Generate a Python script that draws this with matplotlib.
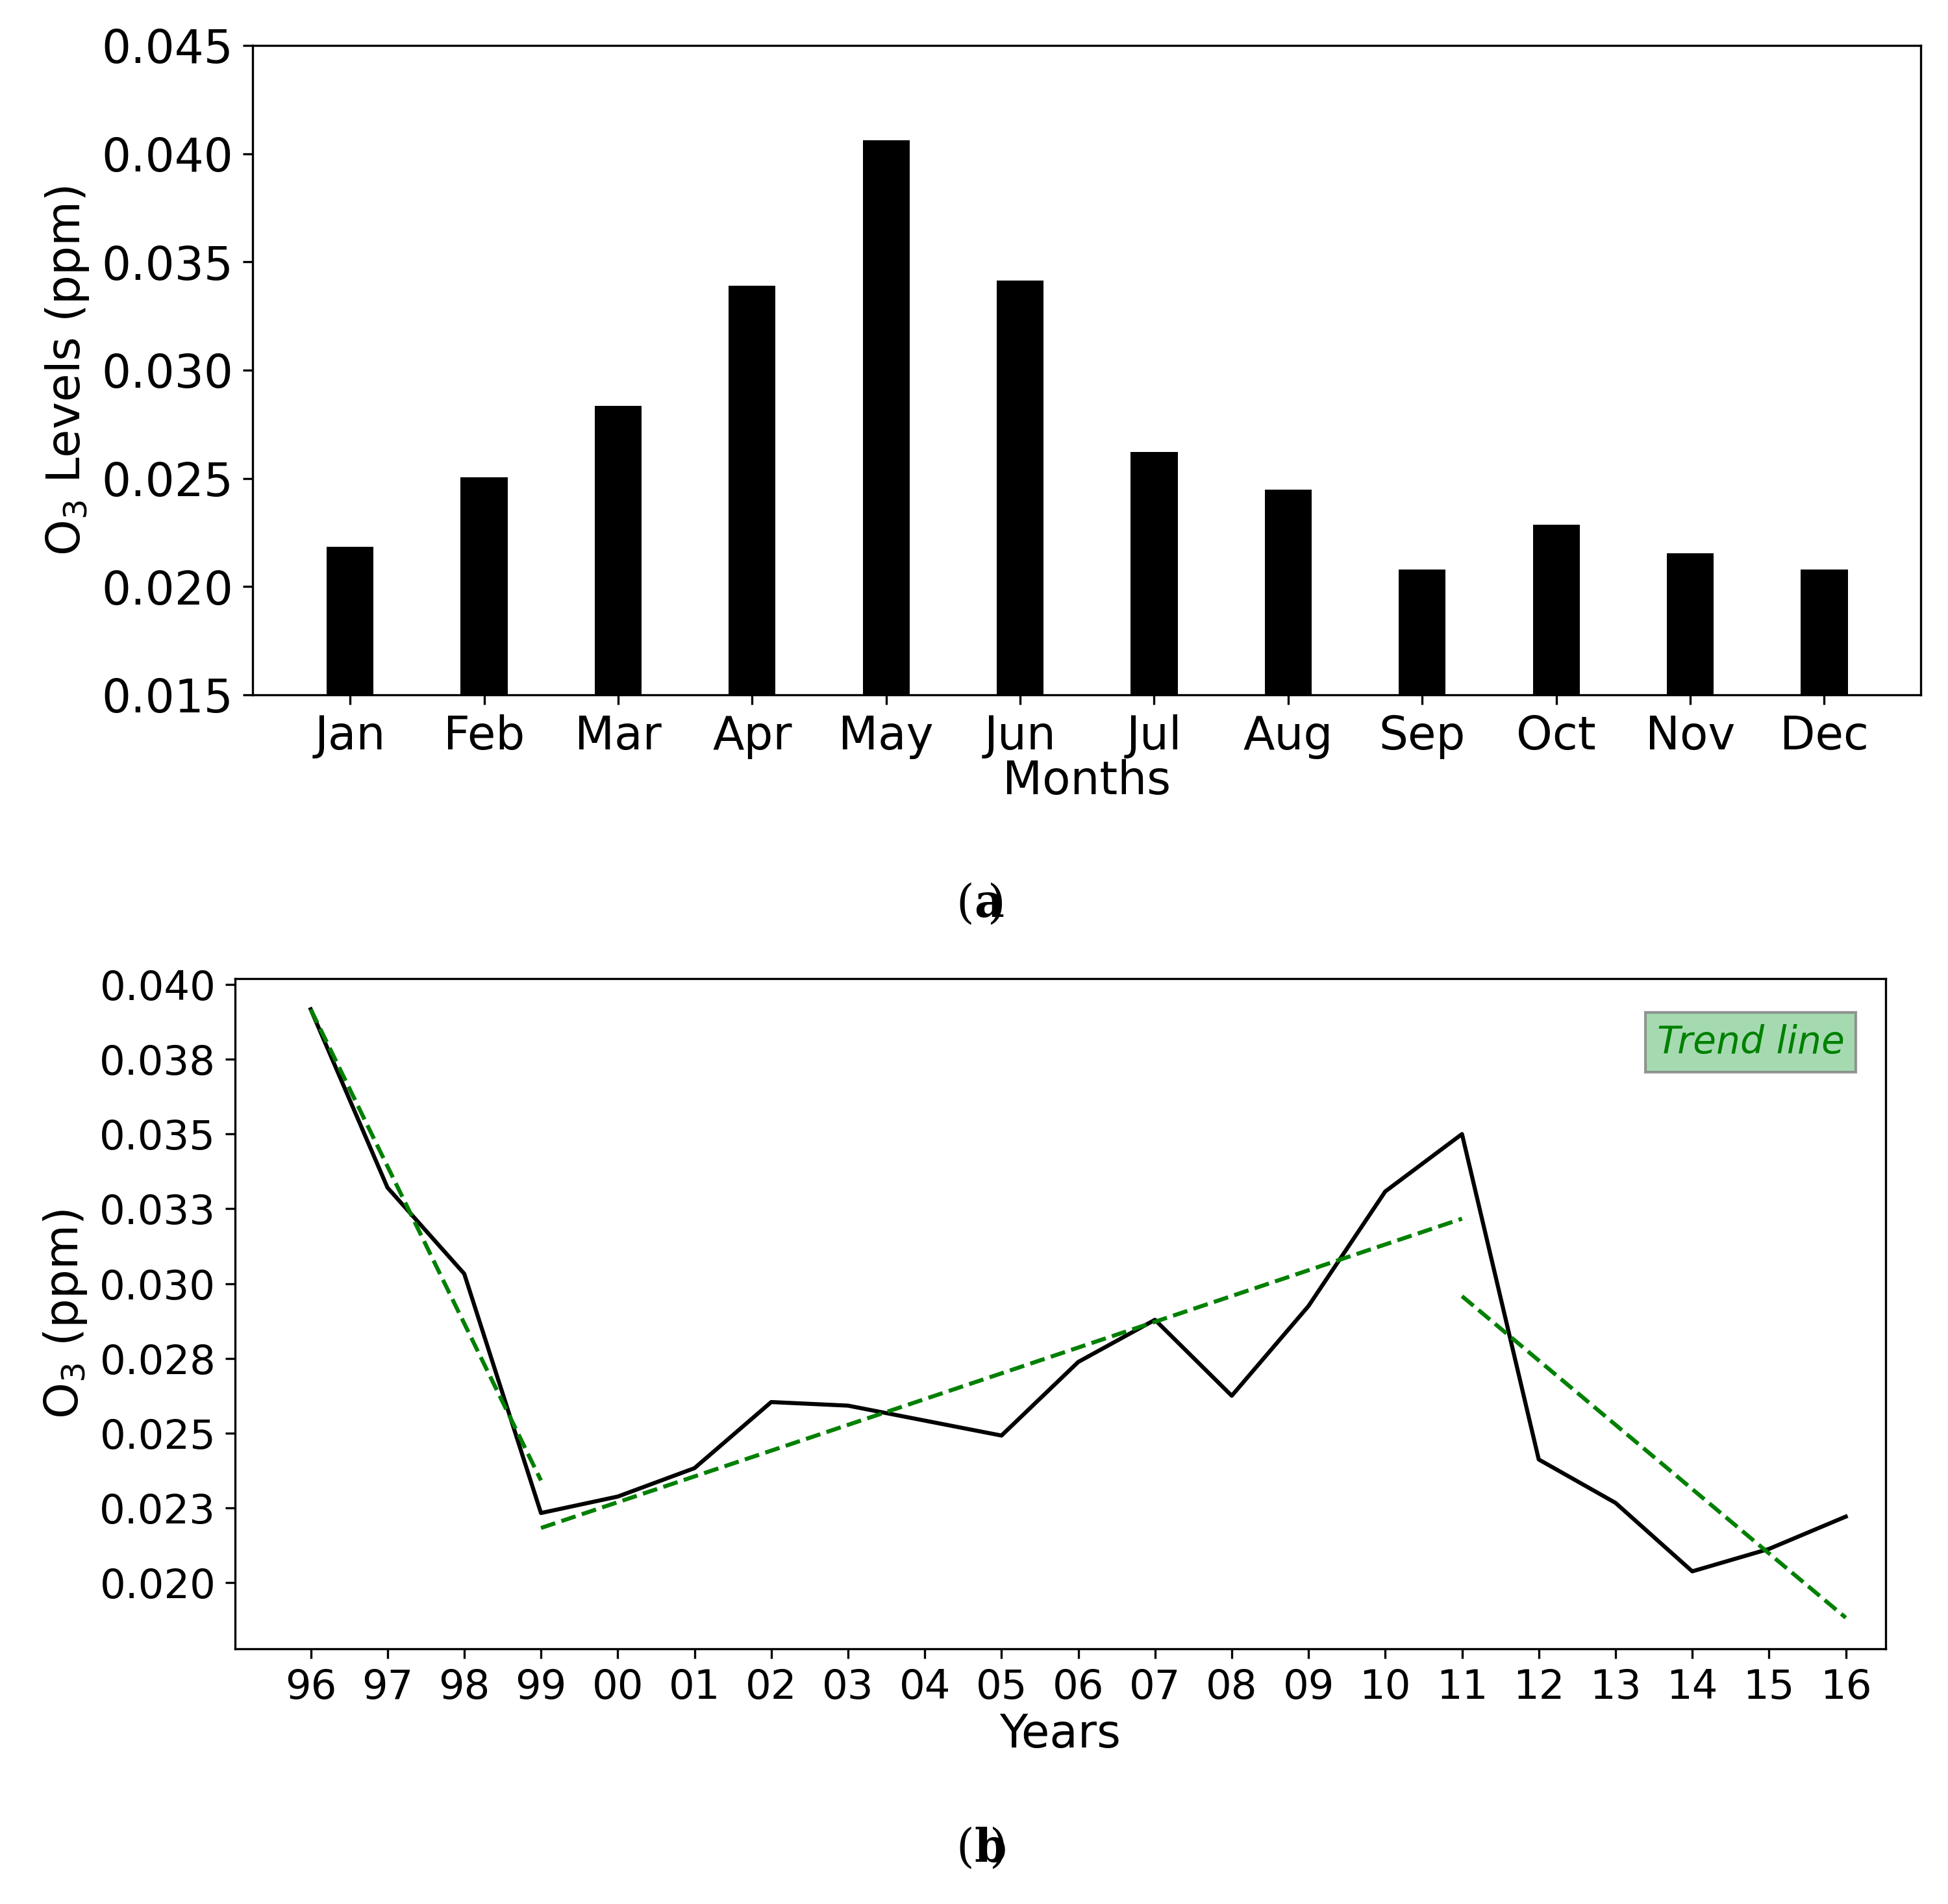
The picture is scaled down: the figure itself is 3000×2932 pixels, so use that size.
import matplotlib
matplotlib.use("Agg")
import matplotlib.pyplot as plt

months = ["Jan","Feb","Mar","Apr","May","Jun","Jul","Aug","Sep","Oct","Nov","Dec"]
monthly = [0.02184,0.02506,0.02834,0.03391,0.04063,0.03414,0.02621,0.02448,0.0208,0.02287,0.02155,0.0208]

years = ["96","97","98","99","00","01","02","03","04","05","06","07","08","09","10","11","12","13","14","15","16"]
yearly = [0.03917,0.03321,0.03033,0.02233,0.02288,0.02383,0.02604,0.02592,0.02542,0.02492,0.02738,
          0.02879,0.02625,0.02925,0.03308,0.035,0.02412,0.02267,0.02038,0.02113,0.02221]
trend_x = [(0,3),(3,15),(15,20)]
trend_y = [(0.03917,0.02342),(0.02183,0.03217),(0.02958,0.01883)]
yticks_b = [0.020,0.0225,0.025,0.0275,0.030,0.0325,0.035,0.0375,0.040]
yticklabels_b = ["0.020","0.023","0.025","0.028","0.030","0.033","0.035","0.038","0.040"]

fig = plt.figure(figsize=(10,9.775), dpi=300)
ax1 = fig.add_axes([0.1295,0.635,0.8565,0.341])
x = range(len(months))
ax1.bar(x, monthly, width=0.35, color="black")
ax1.set_ylim(0.015,0.045)
ax1.set_xlim(-0.73,11.72)
ax1.set_xticks(list(x)); ax1.set_xticklabels(months)
ax1.set_yticks([0.015,0.020,0.025,0.030,0.035,0.040,0.045])
ax1.set_yticklabels(["0.015","0.020","0.025","0.030","0.035","0.040","0.045"])
ax1.tick_params(labelsize=17)
ax1.set_xlabel("Months", fontsize=17, labelpad=0)
ax1.set_ylabel("O$_3$ Levels (ppm)", fontsize=17)
fig.text(0.5,0.525,"(", ha="right",va="center",fontsize=17,family="serif")
fig.text(0.5,0.525,"a",ha="left",va="center",fontsize=17,family="serif",fontweight="bold")
fig.text(0.507,0.525,")",ha="left",va="center",fontsize=17,family="serif")

ax2 = fig.add_axes([0.1205,0.134,0.8475,0.352])
xi = range(len(years))
ax2.plot(xi, yearly, color="black", lw=1.5)
for (a,b),(c,d) in zip(trend_x,trend_y):
    ax2.plot([a,b],[c,d],color="green",ls="--",lw=1.5)
ax2.set_xlim(-0.99,20.52)
ax2.set_ylim(0.01779,0.0402)
ax2.set_xticks(list(xi)); ax2.set_xticklabels(years)
ax2.set_yticks(yticks_b); ax2.set_yticklabels(yticklabels_b)
ax2.tick_params(labelsize=15)
ax2.set_xlabel("Years", fontsize=17, labelpad=2)
ax2.set_ylabel("O$_3$ (ppm)", fontsize=17)
ax2.text(0.975,0.905,"Trend line",transform=ax2.transAxes,ha="right",va="center",
         fontsize=14,style="italic",color="green",
         bbox=dict(boxstyle="square,pad=0.3",facecolor="#8fd19e",edgecolor="gray",alpha=0.8))
fig.text(0.5,0.029,"(", ha="right",va="center",fontsize=17,family="serif")
fig.text(0.5,0.029,"b",ha="left",va="center",fontsize=17,family="serif",fontweight="bold")
fig.text(0.508,0.029,")",ha="left",va="center",fontsize=17,family="serif")
fig.savefig("out.png")
